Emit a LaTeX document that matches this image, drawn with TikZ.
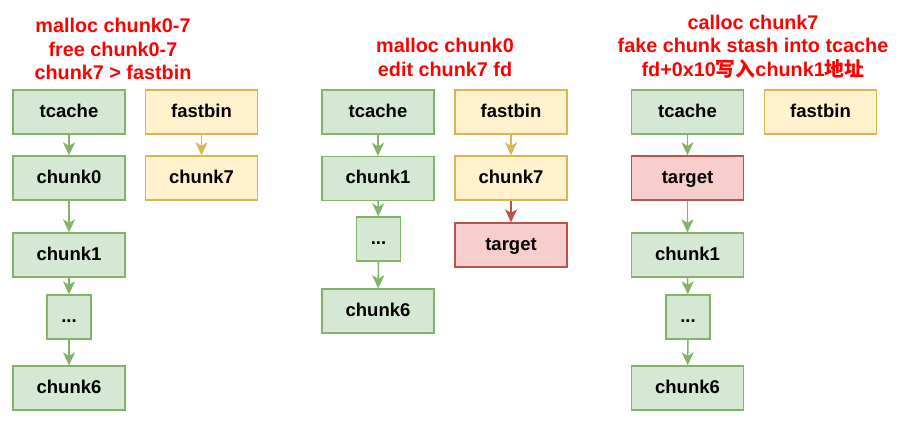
\documentclass[tikz,border=0pt]{standalone}
\usepackage{fontspec}
\setmainfont{Liberation Sans}
\newfontfamily\cjk{Noto Sans CJK SC}
\usetikzlibrary{arrows.meta}
\definecolor{gfill}{HTML}{D5E8D4}\definecolor{gline}{HTML}{82B366}
\definecolor{yfill}{HTML}{FFF2CC}\definecolor{yline}{HTML}{D6B656}
\definecolor{rfill}{HTML}{F8CECC}\definecolor{rline}{HTML}{B85450}
\tikzset{
  box/.style={rectangle, minimum width=112pt, minimum height=44pt, line width=1.3pt, inner sep=0pt,
    text height=13pt, text depth=3pt,
    font=\fontsize{18.5}{21}\selectfont\bfseries},
  gbox/.style={box, draw=gline, fill=gfill},
  ybox/.style={box, draw=yline, fill=yfill},
  rbox/.style={box, draw=rline, fill=rfill},
  dbox/.style={gbox, minimum width=44pt},
  link/.style={draw, line width=1.5pt, arrows={-Stealth[length=13pt,width=12pt,inset=3.5pt]}},
  title/.style={text=red, align=center, font=\fontsize{19.8}{23.5}\selectfont\bfseries}
}
\begin{document}
\begin{tikzpicture}[x=1pt,y=-1pt]
\useasboundingbox (0,0) rectangle (903,424);
% column 1
\node[title] (t1) at (113,49) {malloc chunk0-7\\free chunk0-7\\chunk7 > fastbin};
\node[gbox] (a1) at (69,112) {tcache};
\node[ybox] (af) at (201.5,112) {fastbin};
\node[gbox] (a2) at (69,178) {chunk0};
\node[ybox] (a7) at (201.5,178) {chunk7};
\node[gbox] (a3) at (69,255) {chunk1};
\node[dbox] (a4) at (69,317) {...};
\node[gbox] (a5) at (69,388) {chunk6};
\draw[link, gline] (a1) -- (a2);
\draw[link, gline] (a2) -- (a3);
\draw[link, gline] (a3) -- (a4);
\draw[link, gline] (a4) -- (a5);
\draw[link, yline] (af) -- (a7);
% column 2
\node[title] (t2) at (445,57.5) {malloc chunk0\\edit chunk7 fd};
\node[gbox] (b1) at (378,112) {tcache};
\node[gbox] (b2) at (378,178.5) {chunk1};
\node[dbox] (b3) at (378.5,239) {...};
\node[gbox] (b4) at (378,311) {chunk6};
\node[ybox] (bf) at (511,112) {fastbin};
\node[ybox] (b7) at (511,178) {chunk7};
\node[rbox] (bt) at (511,245) {target};
\draw[link, gline] (b1) -- (b2);
\draw[link, gline] (b2) -- (b3);
\draw[link, gline] (b3) -- (b4);
\draw[link, yline] (bf) -- (b7);
\draw[link, rline] (b7) -- (bt);
% column 3
\node[title] (t3) at (753,46.5) {calloc chunk7\\fake chunk stash into tcache\\fd+0x10{\cjk 写入}chunk1{\cjk 地址}};
\node[gbox] (c1) at (687.5,112) {tcache};
\node[ybox] (cf) at (820.5,112) {fastbin};
\node[rbox] (ct) at (687.5,178) {target};
\node[gbox] (c2) at (687.5,255) {chunk1};
\node[dbox] (c3) at (688,317) {...};
\node[gbox] (c4) at (687.5,388) {chunk6};
\draw[link, gline] (c1) -- (ct);
\draw[link, gline] (ct) -- (c2);
\draw[link, gline] (c2) -- (c3);
\draw[link, gline] (c3) -- (c4);
\end{tikzpicture}
\end{document}
